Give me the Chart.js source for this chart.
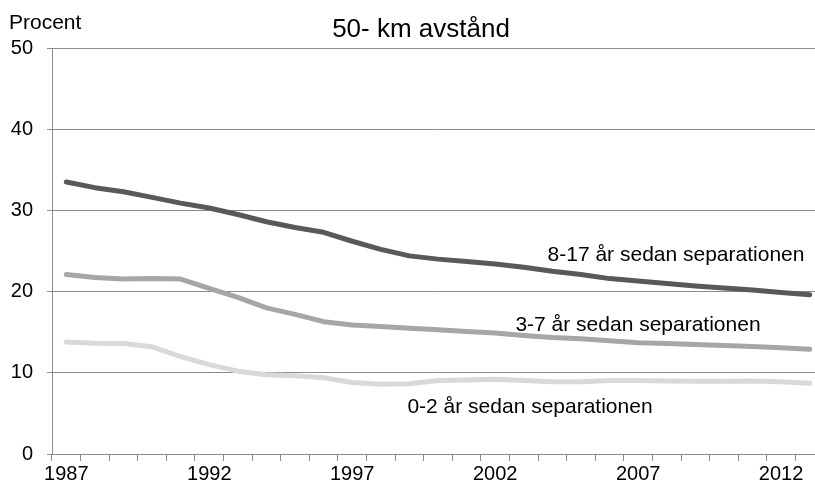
<!DOCTYPE html>
<html>
<head>
<meta charset="utf-8">
<script src="https://cdn.jsdelivr.net/npm/chart.js@4/dist/chart.umd.min.js"></script>
<style>
  html, body { margin: 0; padding: 0; background: #fff; overflow: hidden; }
  #wrap { position: relative; width: 815px; height: 488px; overflow: hidden; }
  canvas { position: absolute; left: 0; top: 0; }
</style>
</head>
<body>
<div id="wrap"><canvas id="distChart" width="830" height="488"></canvas></div>
<script>
const years = ['1987', '1988', '1989', '1990', '1991', '1992', '1993', '1994', '1995', '1996',
               '1997', '1998', '1999', '2000', '2001', '2002', '2003', '2004', '2005', '2006',
               '2007', '2008', '2009', '2010', '2011', '2012', '2013'];

// procent, 50- km avstånd
const years8to17 = [33.5, 32.8, 32.3, 31.6, 30.9, 30.3, 29.5, 28.6, 27.9, 27.3,
                    26.2, 25.2, 24.4, 24.0, 23.7, 23.4, 23.0, 22.5, 22.1, 21.6,
                    21.3, 21.0, 20.7, 20.45, 20.2, 19.9, 19.6];
const years3to7 = [22.1, 21.75, 21.55, 21.6, 21.55, 20.4, 19.3, 18.0, 17.2, 16.3,
                   15.9, 15.7, 15.5, 15.3, 15.1, 14.9, 14.6, 14.35, 14.2, 13.95,
                   13.7, 13.6, 13.5, 13.35, 13.25, 13.1, 12.9];
const years0to2 = [13.8, 13.65, 13.6, 13.2, 12.0, 11.0, 10.2, 9.75, 9.65, 9.4,
                   8.8, 8.6, 8.65, 9.05, 9.1, 9.2, 9.05, 8.9, 8.9, 9.05,
                   9.05, 9.0, 8.95, 8.95, 9.0, 8.9, 8.7];

const seriesLabels = ['8-17 år sedan separationen', '3-7 år sedan separationen', '0-2 år sedan separationen'];
const yTicks = [0, 10, 20, 30, 40, 50];

const font = '"Liberation Sans", Arial, sans-serif';
const gridColor = '#8c8c8c';

// texts placed like in the original figure
const textPlugin = {
    id: 'texts',
    afterDraw(chart) {
        const ctx = chart.ctx;
        ctx.save();
        ctx.fillStyle = '#000';
        ctx.textBaseline = 'alphabetic';

        ctx.font = '21px ' + font;
        ctx.textAlign = 'left';
        ctx.fillText('Procent', 9, 29);

        ctx.font = '26px ' + font;
        ctx.textAlign = 'center';
        ctx.fillText('50- km avstånd', 421, 37);

        ctx.font = '21px ' + font;
        ctx.fillText(seriesLabels[0], 676, 261);
        ctx.fillText(seriesLabels[1], 638, 331);
        ctx.fillText(seriesLabels[2], 530, 413);
        ctx.restore();
    }
};

new Chart(document.getElementById('distChart').getContext('2d'), {
    type: 'line',
    data: {
        labels: years,
        datasets: [
            { label: seriesLabels[0], data: years8to17, borderColor: '#595959' },
            { label: seriesLabels[1], data: years3to7, borderColor: '#a6a6a6' },
            { label: seriesLabels[2], data: years0to2, borderColor: '#d9d9d9' }
        ].map(ds => Object.assign(ds, {
            borderWidth: 5,
            pointRadius: 0,
            tension: 0,
            fill: false,
            borderCapStyle: 'round',
            borderJoinStyle: 'round'
        }))
    },
    options: {
        responsive: false,
        animation: false,
        devicePixelRatio: 1,
        layout: { padding: { top: 48, right: 6, left: 0, bottom: 0 } },
        plugins: {
            legend: { display: false },
            title: { display: false },
            tooltip: { enabled: false }
        },
        scales: {
            x: {
                offset: true,
                grid: {
                    offset: true,
                    drawOnChartArea: false,
                    drawTicks: true,
                    tickLength: 7,
                    color: gridColor
                },
                border: { color: gridColor, width: 1 },
                ticks: {
                    autoSkip: false,
                    maxRotation: 0,
                    padding: 1,
                    color: '#000',
                    font: { family: font, size: 20 },
                    callback: (v, i) => (i % 5 === 0 ? years[i] : '')
                },
                afterFit: scale => { scale.height = 34; }
            },
            y: {
                min: 0,
                max: 50,
                afterBuildTicks: scale => { scale.ticks = yTicks.map(v => ({ value: v })); },
                grid: {
                    color: gridColor,
                    lineWidth: 1,
                    tickLength: 5
                },
                border: { color: gridColor, width: 1 },
                ticks: {
                    padding: 14,
                    color: '#000',
                    font: { family: font, size: 20 }
                },
                afterFit: scale => { scale.width = 52; }
            }
        }
    },
    plugins: [textPlugin]
});
</script>
</body>
</html>
